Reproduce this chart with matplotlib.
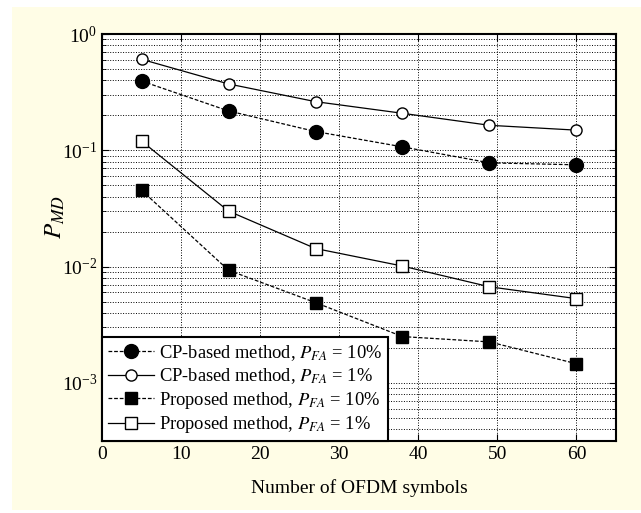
import matplotlib
matplotlib.use("Agg")
import matplotlib.pyplot as plt
from matplotlib.patches import Rectangle
from matplotlib.ticker import LogLocator, NullFormatter

plt.rcParams["font.family"] = ["Liberation Serif", "DejaVu Serif"]
plt.rcParams["mathtext.fontset"] = "stix"

n_symbols = [5, 16, 27, 38, 49, 60]
cp_fa10 = [0.394, 0.218, 0.145, 0.107, 0.078, 0.075]
cp_fa1 = [0.606, 0.372, 0.262, 0.208, 0.164, 0.149]
prop_fa10 = [0.0453, 0.0093, 0.0049, 0.0025, 0.00225, 0.00146]
prop_fa1 = [0.12, 0.030, 0.0143, 0.0101, 0.0067, 0.0053]

labels = [
    r"CP-based method, $P_{FA}$ = 10%",
    r"CP-based method, $P_{FA}$ = 1%",
    r"Proposed method, $P_{FA}$ = 10%",
    r"Proposed method, $P_{FA}$ = 1%",
]

fig = plt.figure(figsize=(6.41, 5.13), dpi=100, facecolor="white")
# yellow panel behind the plot
fig.patches.append(Rectangle((12 / 641, 3 / 513), 629 / 641, 503 / 513,
                             transform=fig.transFigure, facecolor="#fffde6",
                             edgecolor="none", zorder=-10))
ax = fig.add_axes([102 / 641, 1 - 441 / 513, 514 / 641, 407 / 513])

ax.plot(n_symbols, cp_fa10, "k--", marker="o", ms=10, mfc="k", lw=0.9, dashes=(3, 1.5), label=labels[0])
ax.plot(n_symbols, cp_fa1, "k-", marker="o", ms=8, mfc="white", lw=0.9, label=labels[1])
ax.plot(n_symbols, prop_fa10, "k--", marker="s", ms=8, mfc="k", lw=0.9, dashes=(3, 1.5), label=labels[2])
ax.plot(n_symbols, prop_fa1, "k-", marker="s", ms=8, mfc="white", lw=0.9, label=labels[3])

ax.set_yscale("log")
ax.set_xlim(0, 65)
ax.set_ylim(10 ** -3.5, 1)
ax.set_xticks([0, 10, 20, 30, 40, 50, 60])
ax.yaxis.set_major_locator(LogLocator(base=10, numticks=10))
ax.yaxis.set_minor_locator(LogLocator(base=10, subs=range(2, 10), numticks=20))
ax.yaxis.set_minor_formatter(NullFormatter())

ax.grid(True, which="major", ls=":", color="k", lw=0.7)
ax.grid(True, which="minor", axis="y", ls=":", color="k", lw=0.7)
ax.tick_params(which="both", direction="in", top=True, right=True, labelsize=14)
ax.tick_params(which="major", length=5)
ax.tick_params(which="minor", length=3)
for s in ax.spines.values():
    s.set_linewidth(1.5)

ax.set_xlabel("Number of OFDM symbols", fontsize=14, labelpad=12)
ax.set_ylabel(r"$P_{MD}$", fontsize=18)
ax.yaxis.set_label_coords(-0.068, 0.55)

leg = ax.legend(loc="lower left", fontsize=13.3, fancybox=False, framealpha=1,
                edgecolor="k", borderaxespad=0, handlelength=2.5,
                handletextpad=0.3, borderpad=0.3, labelspacing=0.2)
leg.get_frame().set_linewidth(1.5)

fig.savefig("out.png", dpi=100)
